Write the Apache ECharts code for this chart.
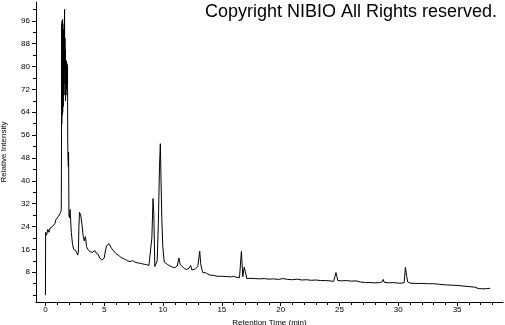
<!DOCTYPE html>
<html><head><meta charset="utf-8">
<script src="https://cdn.jsdelivr.net/npm/echarts@6/dist/echarts.min.js"></script>
<style>html,body{margin:0;padding:0;background:#fff}#c{width:505px;height:325px}</style>
</head><body><div id="c"></div>
<script>
var times = [0.0,0.02,0.1,0.2,0.3,0.4,0.5,0.6,0.7,0.8,0.9,1.0,1.1,1.2,1.3,
1.35,1.37,1.38,1.39,1.40,1.41,1.42,1.43,1.44,1.45,1.46,1.47,1.48,1.49,1.50,1.51,1.52,1.53,1.54,1.55,1.56,1.57,1.58,1.59,1.60,1.61,1.62,1.63,1.64,1.65,1.66,1.67,1.68,1.69,1.70,1.71,1.72,1.73,1.74,1.75,1.76,1.77,1.78,1.79,1.80,1.81,1.82,1.83,1.84,1.85,1.86,1.87,1.88,1.89,1.90,1.92,1.95,1.97,1.98,
2.0,2.05,2.1,2.15,2.2,2.3,2.4,2.5,2.6,2.7,2.75,2.8,2.85,2.9,3.0,3.1,3.2,3.3,3.4,3.5,3.6,3.8,4.0,4.2,4.3,4.5,4.6,4.8,
5.0,5.1,5.2,5.4,5.5,5.6,5.8,6.0,6.2,6.4,6.6,6.8,7.0,7.2,7.4,7.6,7.8,8.0,8.2,8.4,8.6,8.8,8.95,
9.05,9.15,9.22,9.3,9.4,9.5,9.6,9.7,9.77,9.83,9.9,9.98,10.1,10.3,10.5,10.8,11.0,11.2,11.35,11.45,11.6,11.8,12.0,12.2,12.35,12.45,12.6,12.75,12.85,12.95,
13.05,13.12,13.2,13.3,13.4,13.6,13.7,13.8,14.0,14.3,14.6,15.0,15.4,15.8,16.0,16.2,16.5,16.62,16.66,16.72,16.78,16.85,16.9,17.0,17.05,17.12,
17.4,17.8,18.2,18.6,19.0,19.4,19.8,20.2,20.6,21.0,21.4,21.8,22.2,22.6,23.0,23.4,23.8,24.2,24.5,24.62,24.7,24.78,24.85,
25.2,25.6,26.0,26.4,26.8,27.2,27.6,28.0,28.4,28.6,28.72,28.8,29.2,29.6,30.0,30.3,30.5,30.6,30.66,30.72,30.8,
31.0,31.5,32.0,32.5,33.0,33.5,34.0,34.5,35.0,35.5,36.0,36.5,36.8,37.2,37.5,37.8];
var intensity = [0,22,21,23,22,23.5,23,24,23.5,25,26.5,26,27.5,28,29,
30,56,90,60,95,66,96,63,94,70,96.5,64,95,72,93,66,92,75,90,70,93,78,92,74,88,80,96,100,82,78,90,70,84,80,86,68,82,74,81,70,80,76,82,72,81,77,80,79,81,74,80,76,80,62,52,48,45,50,50,
28,27,30,26,22,18,16,16.5,15.5,16,14,15,24,29,28,25,21,19,20.5,17,16,15.2,15,15.6,14.8,14.2,13,12.3,
13,15.5,17.3,18,17.5,16.5,15.5,14.5,14,13.3,12.8,12.5,12,11.7,12.1,11.6,11.3,11.2,11,10.8,10.7,10.4,10.5,
20,33.8,28,10,10.2,12,25,45,53,40,26,17,11.6,11,10.4,9.8,9.6,10.2,13,10.8,10.2,9.3,9,9.4,10.4,8.8,8.1,9.2,8.6,10,
13,15.4,11,9,7.8,7.9,8.3,7.4,7,6.9,6.6,6.6,6.5,6.4,6.6,6.3,6.1,6.0,15.3,14.8,6.4,7,9.8,8.2,8.9,5.8,
5.9,5.8,5.7,5.8,5.6,5.7,5.5,5.8,5.5,5.4,5.6,5.3,5.4,5.2,5.3,5.1,5.1,5.0,4.8,4.7,7.9,6.5,5.1,
5.0,5.1,4.9,5.0,4.6,4.4,4.4,4.3,4.4,4.6,5.5,4.5,4.3,4.4,4.2,4.2,4.4,9.7,9.0,6.5,4.6,
4.2,4.1,4.1,4.0,4.0,3.8,3.6,3.5,3.4,3.2,3.0,2.8,2.3,2.2,2.3,2.4];
var xLabels = [0,5,10,15,20,25,30,35];
var xMinor = [0,1,2,3,4,5,6,7,8,9,10,11,12,13,14,15,16,17,18,19,20,21,22,23,24,25,26,27,28,29,30,31,32,33,34,35,36,37,38];
var yLabels = [8,16,24,32,40,48,56,64,72,80,88,96];
var yMinor = [0,4,8,12,16,20,24,28,32,36,40,44,48,52,56,60,64,68,72,76,80,84,88,92,96,100];

var pts = times.map(function(t,i){return [t,intensity[i]];});
var font = 'Liberation Sans';
var chart = echarts.init(document.getElementById('c'));
var xBase = {type:'value',min:-0.8,max:38.9,splitLine:{show:false}};
var yBase = {type:'value',min:-2.4,max:102.6,splitLine:{show:false}};
chart.setOption({
  animation:false,
  grid:{left:36,right:2,top:2,bottom:23,containLabel:false,outerBoundsMode:'none'},
  graphic:[{type:'text',right:8,top:3,style:{text:'Copyright NIBIO All Rights reserved.',font:'18px "Liberation Sans"',fill:'#000'}}],
  xAxis:[
    Object.assign({},xBase,{name:'Retention Time (min)',nameLocation:'middle',nameGap:12,
      nameTextStyle:{fontFamily:font,fontSize:8,color:'#000'},
      axisLine:{onZero:false,lineStyle:{color:'#000',width:1}},
      axisTick:{show:true,customValues:xLabels,length:4,lineStyle:{color:'#000'}},
      axisLabel:{customValues:xLabels,fontFamily:font,fontSize:8,color:'#000',margin:4}}),
    Object.assign({},xBase,{position:'bottom',
      axisLine:{show:false,onZero:false},
      axisTick:{show:true,customValues:xMinor,length:3,lineStyle:{color:'#000'}},
      axisLabel:{show:false}})
  ],
  yAxis:[
    Object.assign({},yBase,{name:'Relative Intensity',nameLocation:'middle',nameGap:28,
      nameTextStyle:{fontFamily:font,fontSize:8,color:'#000'},
      axisLine:{show:true,onZero:false,lineStyle:{color:'#000',width:1}},
      axisTick:{show:true,customValues:yLabels,length:4,lineStyle:{color:'#000'}},
      axisLabel:{customValues:yLabels,fontFamily:font,fontSize:8,color:'#000',margin:6}}),
    Object.assign({},yBase,{position:'left',
      axisLine:{show:false,onZero:false},
      axisTick:{show:true,customValues:yMinor,length:3,lineStyle:{color:'#000'}},
      axisLabel:{show:false}})
  ],
  series:[{type:'line',data:pts,showSymbol:false,symbol:'none',xAxisIndex:0,yAxisIndex:0,
    lineStyle:{color:'#000',width:1},sampling:null}]
});
</script></body></html>
